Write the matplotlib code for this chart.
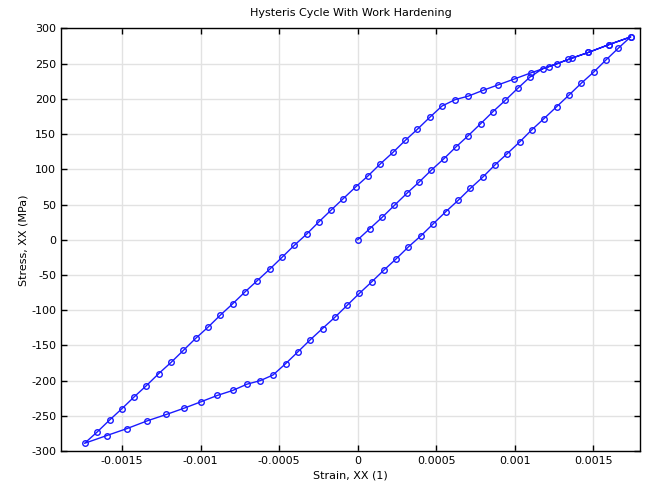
import matplotlib
matplotlib.use("Agg")
import matplotlib.pyplot as plt
import numpy as np

# strain (x 1e-4) and stress (MPa), in path order
# 1) initial loading, elastic part
load_strain = [0, 0.78, 1.56, 2.34, 3.13, 3.91, 4.69, 5.48, 6.26, 7.04, 7.83,
               8.61, 9.39, 10.18, 10.96]
load_stress = [0, 16, 32, 49, 66, 82, 99, 115, 132, 148, 165, 182, 198, 215, 231]
# 2) initial loading, plastic part
harden_strain = [11.77, 12.68, 13.38, 14.67, 15.97, 17.36]
harden_stress = [243, 250, 256, 266, 277, 288]
# 3) unloading down to compression yield
unload_strain = [16.58, 15.78, 15.01, 14.21, 13.42, 12.66, 11.85, 11.07, 10.31,
                 9.50, 8.72, 7.96, 7.17, 6.39, 5.61, 4.82, 4.04, 3.23, 2.45,
                 1.67, 0.88, 0.11, -0.67, -1.45, -2.24, -3.02, -3.80, -4.59,
                 -5.39]
unload_stress = [272, 255, 238, 222, 205, 189, 172, 156, 139, 122, 106, 89, 73,
                 56, 40, 23, 6, -10, -27, -43, -60, -76, -93, -110, -126, -142,
                 -159, -176, -192]
# 4) compression, plastic part
comp_strain = [-6.20, -7.04, -7.96, -8.93, -9.97, -11.03, -12.17, -13.38,
               -14.67, -15.97, -17.38]
comp_stress = [-200, -205, -214, -221, -230, -239, -248, -257, -268, -278, -289]
# 5) reloading, elastic part
reload_strain = [-16.58, -15.79, -15.01, -14.22, -13.44, -12.66, -11.87, -11.09,
                 -10.31, -9.52, -8.74, -7.96, -7.17, -6.39, -5.61, -4.82, -4.04,
                 -3.25, -2.49, -1.70, -0.94, -0.13, 0.67, 1.45, 2.24, 3.02, 3.80,
                 4.59, 5.37]
reload_stress = [-273, -256, -240, -223, -207, -190, -174, -157, -140, -124,
                 -107, -91, -74, -58, -42, -25, -8, 8, 25, 42, 58, 75, 91, 108,
                 124, 141, 157, 174, 190]
# 6) reloading, plastic part
rehard_strain = [6.20, 7.04, 7.95, 8.94, 9.93, 11.02, 12.19, 13.65, 14.67,
                 15.97, 17.36]
rehard_stress = [199, 204, 212, 220, 228, 237, 246, 258, 266, 277, 288]

x_ticks = [-0.0015, -0.001, -0.0005, 0, 0.0005, 0.001, 0.0015]
x_tick_labels = ["-0.0015", "-0.001", "-0.0005", "0", "0.0005", "0.001", "0.0015"]
y_ticks = list(range(-300, 301, 50))

strain = np.array(load_strain + harden_strain + unload_strain + comp_strain
                  + reload_strain + rehard_strain) * 1e-4
stress = np.array(load_stress + harden_stress + unload_stress + comp_stress
                  + reload_stress + rehard_stress)

plt.rcParams['font.family'] = 'DejaVu Sans'
plt.rcParams['axes.unicode_minus'] = False

fig = plt.figure(figsize=(6.5, 4.87), dpi=100)
ax = fig.add_axes([0.0938, 0.0738, 0.8908, 0.8677])

ax.plot(strain, stress, color='#1a1aff', lw=1.0, marker='o', ms=4.0,
        mfc='none', mec='#1a1aff', mew=1.0)

ax.set_xlim(-0.001888, 0.001796)
ax.set_ylim(-300, 300)
ax.set_xticks(x_ticks)
ax.set_xticklabels(x_tick_labels)
ax.set_yticks(y_ticks)
ax.grid(True, color='#e2e2e2', lw=1.0)
ax.set_axisbelow(True)
ax.tick_params(direction='in', top=True, right=True, labelsize=8, length=4,
               width=1)
for s in ax.spines.values():
    s.set_linewidth(1.0)

ax.set_title('Hysteris Cycle With Work Hardening', fontsize=8, pad=9)
ax.set_xlabel('Strain, XX (1)', fontsize=8, labelpad=3)
ax.set_ylabel('Stress, XX (MPa)', fontsize=8, labelpad=2)

fig.savefig('out.png', dpi=100)
